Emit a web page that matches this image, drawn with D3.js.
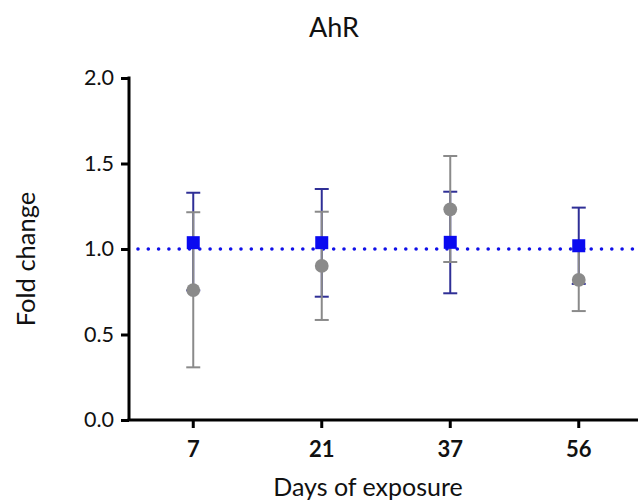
<!DOCTYPE html>
<html>
<head>
<meta charset="utf-8">
<script src="https://cdn.jsdelivr.net/npm/d3@7"></script>
<style>
  html, body { margin: 0; padding: 0; background: #fff; }
  svg { display: block; }
  text { font-family: Lato, "Open Sans", sans-serif; }
</style>
</head>
<body>
<svg id="chart" width="638" height="501"></svg>
<script>
// ---- Data ----
const categories = ["7", "21", "37", "56"];
const yTicks = [0, 0.5, 1.0, 1.5, 2.0];
const referenceLevel = 1.0;

// Grey series (circles)
const greyMean  = [0.760, 0.901, 1.232, 0.819];
const greyLower = [0.308, 0.585, 0.924, 0.637];
const greyUpper = [1.215, 1.218, 1.544, 1.001];

// Blue series (squares)
const blueMean  = [1.037, 1.037, 1.039, 1.019];
const blueLower = [0.758, 0.721, 0.741, 0.796];
const blueUpper = [1.329, 1.351, 1.335, 1.242];

const chartTitle = "AhR";
const xTitle = "Days of exposure";
const yTitle = "Fold change";

// ---- Layout ----
const svg = d3.select("#chart");
const mLeft = 129, mRight = 643, mTop = 78, mBottom = 420;

const x = d3.scaleBand().domain(categories).range([mLeft, mRight]).padding(0);
const y = d3.scaleLinear().domain([0, 2]).range([mBottom, mTop]);
const cx = d => x(d) + x.bandwidth() / 2;

const greyColor = "#8a8a8a";
const blueBarColor = "#2f2f96";
const blueFill = "#0a0af0";

// Title
svg.append("text")
  .attr("x", 334).attr("y", 37)
  .attr("text-anchor", "middle")
  .attr("font-size", 27)
  .attr("fill", "#111")
  .text(chartTitle);

// Y axis
const yAxis = svg.append("g")
  .attr("transform", `translate(${mLeft},0)`)
  .call(d3.axisLeft(y).tickValues(yTicks).tickFormat(d3.format(".1f")).tickSize(8).tickPadding(7));
yAxis.select(".domain").attr("stroke", "#000").attr("stroke-width", 3)
  .attr("d", `M0,${mTop - 1.5}V${mBottom}`);
yAxis.selectAll(".tick line").attr("stroke", "#000").attr("stroke-width", 3);
yAxis.selectAll(".tick text").attr("font-size", 21.5).attr("fill", "#111")
  .attr("font-family", "Lato, 'Open Sans', sans-serif");

// X axis
const xAxis = svg.append("g")
  .attr("transform", `translate(0,${mBottom})`)
  .call(d3.axisBottom(x).tickSize(8).tickPadding(13));
xAxis.select(".domain").attr("stroke", "#000").attr("stroke-width", 3)
  .attr("d", `M${mLeft - 1.5},0H${mRight}`);
xAxis.selectAll(".tick line").attr("stroke", "#000").attr("stroke-width", 3);
xAxis.selectAll(".tick text").attr("font-size", 22).attr("font-weight", "bold").attr("fill", "#111")
  .attr("font-family", "Lato, 'Open Sans', sans-serif");

// Axis titles
svg.append("text")
  .attr("x", 368).attr("y", 496)
  .attr("text-anchor", "middle")
  .attr("font-size", 25)
  .attr("fill", "#111")
  .text(xTitle);

svg.append("text")
  .attr("transform", `translate(35,259) rotate(-90)`)
  .attr("text-anchor", "middle")
  .attr("font-size", 25.5)
  .attr("fill", "#111")
  .text(yTitle);

// Dotted reference line
svg.append("line")
  .attr("x1", 138).attr("x2", 640)
  .attr("y1", y(referenceLevel)).attr("y2", y(referenceLevel))
  .attr("stroke", "#1010e8")
  .attr("stroke-width", 3.6)
  .attr("stroke-linecap", "round")
  .attr("stroke-dasharray", "0,10.3");

// Error bars helper
function errorBars(lower, upper, color) {
  const g = svg.append("g").attr("stroke", color).attr("stroke-width", 2).attr("fill", "none");
  categories.forEach((c, i) => {
    const xc = cx(c);
    g.append("line").attr("x1", xc).attr("x2", xc).attr("y1", y(lower[i])).attr("y2", y(upper[i]));
    g.append("line").attr("x1", xc - 7).attr("x2", xc + 7).attr("y1", y(lower[i])).attr("y2", y(lower[i]));
    g.append("line").attr("x1", xc - 7).attr("x2", xc + 7).attr("y1", y(upper[i])).attr("y2", y(upper[i]));
  });
}

errorBars(blueLower, blueUpper, blueBarColor);
errorBars(greyLower, greyUpper, greyColor);

// Squares
const sq = 13;
svg.append("g").selectAll("rect")
  .data(categories)
  .join("rect")
  .attr("x", (d) => cx(d) - sq / 2)
  .attr("y", (d, i) => y(blueMean[i]) - sq / 2)
  .attr("width", sq).attr("height", sq)
  .attr("fill", blueFill);

// Circles
svg.append("g").selectAll("circle")
  .data(categories)
  .join("circle")
  .attr("cx", d => cx(d))
  .attr("cy", (d, i) => y(greyMean[i]))
  .attr("r", 6.9)
  .attr("fill", greyColor);
</script>
</body>
</html>
